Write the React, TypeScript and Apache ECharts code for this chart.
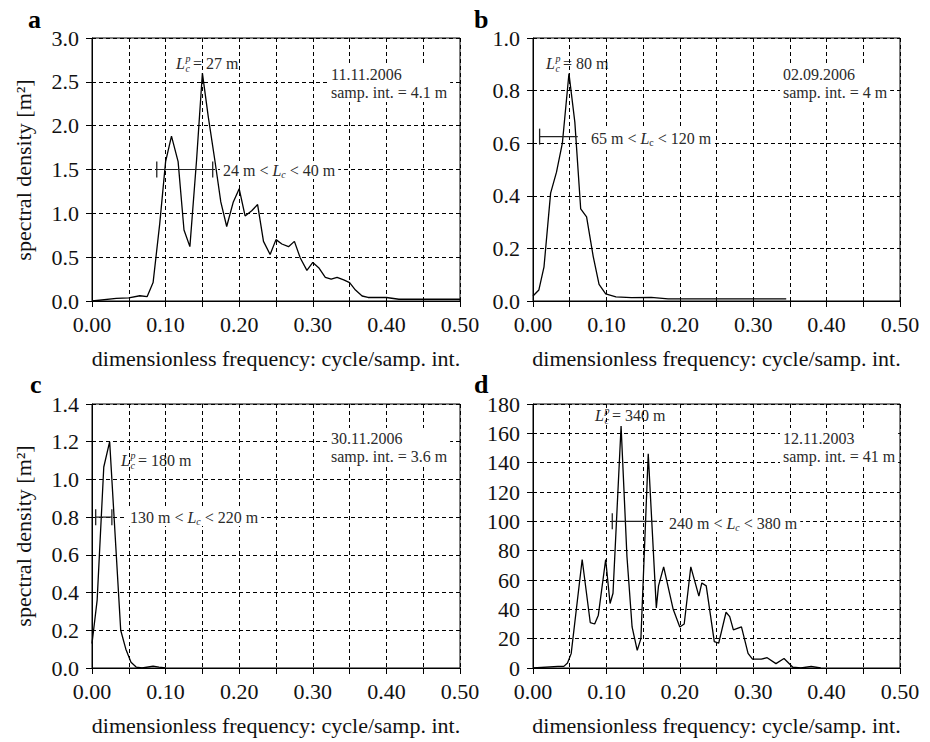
import React, { useEffect, useRef } from 'react';
import * as echarts from 'echarts';

// ---------------- data ----------------
const freqA = [0, 0.033, 0.05, 0.065, 0.075, 0.083, 0.092, 0.1, 0.108, 0.117, 0.125, 0.133, 0.142, 0.15, 0.158, 0.167, 0.175, 0.183, 0.192, 0.2, 0.208, 0.217, 0.225, 0.233, 0.242, 0.25, 0.258, 0.267, 0.275, 0.283, 0.292, 0.3, 0.308, 0.317, 0.325, 0.333, 0.342, 0.35, 0.358, 0.367, 0.375, 0.4, 0.417, 0.5];
const psdA = [0, 0.03, 0.035, 0.06, 0.05, 0.21, 0.88, 1.59, 1.88, 1.59, 0.81, 0.62, 1.6, 2.6, 2.1, 1.6, 1.13, 0.85, 1.13, 1.28, 0.97, 1.03, 1.1, 0.68, 0.53, 0.7, 0.65, 0.62, 0.68, 0.49, 0.35, 0.44, 0.38, 0.27, 0.25, 0.27, 0.24, 0.21, 0.125, 0.057, 0.04, 0.04, 0.02, 0.02];

const freqB = [0, 0.008, 0.015, 0.024, 0.032, 0.04, 0.049, 0.057, 0.065, 0.073, 0.082, 0.09, 0.099, 0.113, 0.134, 0.161, 0.184, 0.345];
const psdB = [0.019, 0.042, 0.13, 0.41, 0.49, 0.6, 0.865, 0.68, 0.35, 0.32, 0.17, 0.063, 0.027, 0.016, 0.013, 0.014, 0.008, 0.008];

const freqC = [0, 0.007, 0.016, 0.024, 0.039, 0.046, 0.053, 0.06, 0.068, 0.083, 0.091, 0.1];
const psdC = [0.13, 0.36, 1.066, 1.2, 0.2, 0.1, 0.03, 0.005, 0, 0.01, 0.005, 0];

const freqD = [0, 0.034, 0.042, 0.047, 0.052, 0.067, 0.078, 0.084, 0.089, 0.099, 0.105, 0.109, 0.12, 0.128, 0.135, 0.142, 0.147, 0.157, 0.168, 0.171, 0.178, 0.191, 0.2, 0.206, 0.215, 0.226, 0.23, 0.236, 0.247, 0.253, 0.263, 0.268, 0.273, 0.284, 0.293, 0.299, 0.311, 0.319, 0.331, 0.342, 0.354, 0.365, 0.379, 0.392];
const psdD = [0, 1.1, 1.1, 3.4, 9.8, 74, 31, 30, 36, 74, 44, 51, 165, 76, 28, 12, 20, 146, 41, 56, 69, 40, 28, 30, 69, 49, 58, 56, 18, 17, 38, 35, 26, 28, 10, 6, 6, 7, 3, 6.5, 0.5, 0, 1.1, 0];

// L_c range bars: [fLow, fHigh, level]
const rangeA = [0.088, 0.164, 1.5];
const rangeB = [0.009, 0.061, 0.625];
const rangeC = [0.005, 0.027, 0.8];
const rangeD = [0.108, 0.169, 100];

const yMax = [3, 1, 1.4, 180];
const yInterval = [0.5, 0.2, 0.2, 20];
const yDecimals = [1, 1, 1, 0];
const xMax = 0.5;
const xInterval = 0.05;

const panelLetters = ['a', 'b', 'c', 'd'];
const dates = ['11.11.2006', '02.09.2006', '30.11.2006', '12.11.2003'];
const sampInts = ['4.1 m', '4 m', '3.6 m', '41 m'];
const peakLc = ['27 m', '80 m', '180 m', '340 m'];
const rangeLow = ['24 m', '65 m', '130 m', '240 m'];
const rangeHigh = ['40 m', '120 m', '220 m', '380 m'];

const xName = 'dimensionless frequency: cycle/samp. int.';
const yName = 'spectral density [m²]';

// ---------------- layout ----------------
const FONT = 'Liberation Serif, serif';
const grids = [
  { left: 92, top: 38, width: 368, height: 263 },
  { left: 533, top: 38, width: 367, height: 263 },
  { left: 92, top: 404, width: 368, height: 264 },
  { left: 533, top: 404, width: 367, height: 264 },
];
const letterPos = [[28, 19], [474, 19], [30, 384], [474, 384]];
const peakPos = [[176, 63], [546, 63], [121, 460], [595, 415]];
const peakW = [68, 68, 76, 76];
const datePos = [[331, 65], [783, 65], [331, 429], [783, 429]];
const rangePos = [[223, 170], [591, 138], [130, 517], [669, 523]];
const rangeTickBoth = [true, false, true, false];
const rangeSubItalic = [true, false, true, true];
const yNamePos = [[23, 170], [23, 536]];

const ANN = '#2a2a2a';

function txt(extra: any) {
  const s: any = { ...extra };
  if (s.align) s.textAlign = s.align;
  if (s.verticalAlign) s.textVerticalAlign = s.verticalAlign;
  if (s.fill) s.textFill = s.fill;
  if (s.backgroundColor) s.textBackgroundColor = s.backgroundColor;
  if (s.padding) s.textPadding = s.padding;
  if (s.lineHeight) s.textLineHeight = s.lineHeight;
  return s;
}

export default function App() {
  const ref = useRef<HTMLDivElement>(null);

  useEffect(() => {
    document.body.style.margin = '0';
    if (!ref.current) return;
    const chart = echarts.init(ref.current, undefined, { renderer: 'svg' });

    const freqs = [freqA, freqB, freqC, freqD];
    const psds = [psdA, psdB, psdC, psdD];
    const ranges = [rangeA, rangeB, rangeC, rangeD];

    const xAxes = grids.map((_, i) => ({
      type: 'value',
      gridIndex: i,
      min: 0,
      max: xMax,
      interval: xInterval,
      axisLine: { show: true, onZero: false, lineStyle: { color: '#000', width: 1 } },
      axisTick: { show: true, inside: false, length: 6, lineStyle: { color: '#000', width: 1 } },
      axisLabel: {
        show: true,
        margin: 12,
        showMinLabel: true,
        showMaxLabel: true,
        color: '#111',
        fontFamily: FONT,
        fontSize: 22,
        formatter: (v: number) => (Math.round(v * 100) % 10 === 0 ? v.toFixed(2) : ''),
      },
      splitLine: { show: true, lineStyle: { color: '#000', width: 1, type: [4, 3] } },
      name: xName,
      nameLocation: 'middle',
      nameGap: 46,
      nameTextStyle: { fontFamily: FONT, fontSize: 22, color: '#111' },
    }));

    const yAxes = grids.map((_, i) => ({
      type: 'value',
      gridIndex: i,
      min: 0,
      max: yMax[i],
      interval: yInterval[i],
      axisLine: { show: true, onZero: false, lineStyle: { color: '#000', width: 1 } },
      axisTick: { show: true, inside: false, length: 6, lineStyle: { color: '#000', width: 1 } },
      axisLabel: {
        show: true,
        margin: 13,
        showMinLabel: true,
        showMaxLabel: true,
        color: '#111',
        fontFamily: FONT,
        fontSize: 22,
        formatter: (v: number) => v.toFixed(yDecimals[i]),
      },
      splitLine: { show: true, lineStyle: { color: '#000', width: 1, type: [4, 3] } },
    }));

    const series: any[] = [];
    grids.forEach((_, i) => {
      series.push({
        type: 'line',
        xAxisIndex: i,
        yAxisIndex: i,
        data: freqs[i].map((f, k) => [f, psds[i][k]]),
        symbol: 'none',
        lineStyle: { color: '#000', width: 1.3 },
        z: 3,
      });
      const r = ranges[i];
      series.push({
        type: 'line',
        xAxisIndex: i,
        yAxisIndex: i,
        data: [
          { value: [r[0], r[2]], symbol: 'rect', symbolSize: [1.3, 16] },
          { value: [r[1], r[2]], symbol: rangeTickBoth[i] ? 'rect' : 'none', symbolSize: [1.3, 16] },
        ],
        showSymbol: true,
        showAllSymbol: true,
        itemStyle: { color: '#222' },
        lineStyle: { color: '#222', width: 1.2 },
        z: 4,
      });
    });

    const graphics: any[] = [];
    grids.forEach((_, i) => {
      graphics.push({
        type: 'text',
        x: letterPos[i][0],
        y: letterPos[i][1],
        z: 10,
        style: txt({ text: panelLetters[i], font: `bold 26px ${FONT}`, fill: '#000', align: 'left', verticalAlign: 'middle' }),
      });
      const [px, py] = peakPos[i];
      graphics.push({
        type: 'group',
        x: px,
        y: py,
        z: 10,
        children: [
          { type: 'rect', shape: { x: -3, y: -10, width: peakW[i], height: 20 }, style: { fill: '#fff' } },
          { type: 'text', x: 0, y: 0, style: txt({ text: 'L', font: `italic 16px ${FONT}`, fill: ANN, align: 'left', verticalAlign: 'middle' }) },
          { type: 'text', x: 9.5, y: -5, style: txt({ text: 'p', font: `italic 10px ${FONT}`, fill: ANN, align: 'left', verticalAlign: 'middle' }) },
          { type: 'text', x: 9.5, y: 5, style: txt({ text: 'c', font: `italic 10px ${FONT}`, fill: ANN, align: 'left', verticalAlign: 'middle' }) },
          { type: 'text', x: 17, y: 0, style: txt({ text: '= ' + peakLc[i], font: `16px ${FONT}`, fill: ANN, align: 'left', verticalAlign: 'middle' }) },
        ],
      });
      graphics.push({
        type: 'text',
        x: datePos[i][0] - 3,
        y: datePos[i][1] - 1,
        z: 10,
        style: txt({
          text: dates[i] + '\nsamp. int. = ' + sampInts[i],
          font: `16px ${FONT}`,
          fill: ANN,
          align: 'left',
          verticalAlign: 'top',
          lineHeight: 18,
          backgroundColor: '#fff',
          padding: [1, 3, 1, 3],
        }),
      });
      graphics.push({
        type: 'text',
        x: rangePos[i][0] - 3,
        y: rangePos[i][1],
        z: 10,
        style: txt({
          text: `${rangeLow[i]} < {i|L}{s|c} < ${rangeHigh[i]}`,
          font: `16px ${FONT}`,
          fill: ANN,
          align: 'left',
          verticalAlign: 'middle',
          lineHeight: 18,
          backgroundColor: '#fff',
          padding: [0, 3, 0, 3],
          rich: {
            i: { fontFamily: FONT, fontSize: 16, fontStyle: 'italic', fill: ANN, color: ANN, lineHeight: 18 },
            s: {
              fontFamily: FONT,
              fontSize: 10,
              fontStyle: rangeSubItalic[i] ? 'italic' : 'normal',
              fill: ANN,
              color: ANN,
              verticalAlign: 'bottom',
              lineHeight: 12,
            },
          },
        }),
      });
    });
    yNamePos.forEach(([x, y]) => {
      graphics.push({
        type: 'text',
        x,
        y,
        rotation: Math.PI / 2,
        z: 10,
        style: txt({ text: yName, font: `22px ${FONT}`, fill: '#111', align: 'center', verticalAlign: 'middle' }),
      });
    });

    chart.setOption({
      animation: false,
      backgroundColor: '#fff',
      grid: grids.map((g) => ({ ...g, show: true, borderColor: '#000', borderWidth: 1, backgroundColor: 'transparent' })),
      xAxis: xAxes,
      yAxis: yAxes,
      series,
      graphic: graphics,
    });

    return () => chart.dispose();
  }, []);

  return <div ref={ref} style={{ width: 930, height: 742 }} />;
}
